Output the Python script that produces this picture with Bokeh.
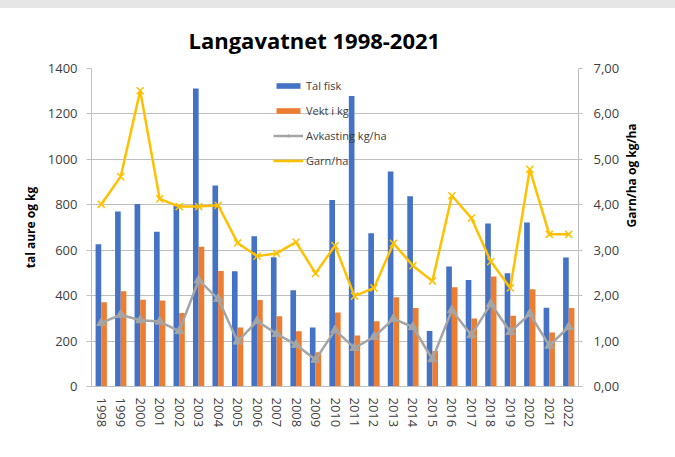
import math
from bokeh.plotting import figure
from bokeh.models import (ColumnDataSource, Range1d, FactorRange, LinearAxis, SingleIntervalTicker,
                          FixedTicker, Legend, LegendItem)
from bokeh.transform import dodge
from bokeh.embed import file_html
from bokeh.resources import INLINE

# ---- data ----
years = ["1998", "1999", "2000", "2001", "2002", "2003", "2004", "2005", "2006", "2007",
         "2008", "2009", "2010", "2011", "2012", "2013", "2014", "2015", "2016", "2017",
         "2018", "2019", "2020", "2021", "2022"]
tal_fisk = [626, 770, 803, 681, 795, 1312, 885, 507, 662, 569, 424, 260, 821,
            1279, 675, 947, 838, 244, 528, 469, 718, 499, 722, 347, 568]
vekt_kg = [371, 419, 382, 379, 324, 615, 509, 260, 381, 309, 243, 151, 326,
           225, 287, 393, 346, 156, 437, 299, 484, 312, 428, 238, 346]
avkasting = [1.40, 1.58, 1.46, 1.43, 1.22, 2.34, 1.93, 0.99, 1.44, 1.16, 0.92, 0.59, 1.24,
             0.85, 1.09, 1.49, 1.31, 0.60, 1.68, 1.13, 1.82, 1.20, 1.60, 0.90, 1.31]
garn_ha = [4.01, 4.62, 6.51, 4.13, 3.96, 3.96, 3.99, 3.16, 2.87, 2.93, 3.18, 2.49, 3.10,
           1.99, 2.17, 3.15, 2.66, 2.32, 4.20, 3.71, 2.75, 2.17, 4.78, 3.35, 3.35]
right_ticks = [0, 1, 2, 3, 4, 5, 6, 7]
right_tick_labels = ["0,00", "1,00", "2,00", "3,00", "4,00", "5,00", "6,00", "7,00"]

title_text = "Langavatnet 1998-2021"
left_label = "tal aure og kg"
right_label = "Garn/ha og kg/ha"

FONT = "Open Sans"
TXT = "#404040"
GRID = "#bfbfbf"

src = ColumnDataSource(dict(year=years, tal=tal_fisk, vekt=vekt_kg, avk=avkasting, garn=garn_ha))

p = figure(width=675, height=449, x_range=FactorRange(factors=years), y_range=Range1d(0, 1400),
           output_backend="svg", toolbar_location=None,
           min_border_left=91, min_border_right=97, min_border_top=60, min_border_bottom=71)
p.extra_y_ranges = {"right": Range1d(0, 7)}
p.outline_line_color = None
p.background_fill_color = "white"
p.border_fill_color = "white"
p.styles = {"border-top": "8px solid #e6e6e6"}

p.title.text = title_text
p.title.align = "left"
p.title.offset = 97
p.title.text_font = FONT
p.title.text_font_size = "22px"
p.title.text_font_style = "bold"
p.title.text_color = "black"
p.title.standoff = 27

b1 = p.vbar(x=dodge("year", -0.145, range=p.x_range), top="tal", width=0.29, source=src,
            fill_color="#4472C4", line_color=None)
b2 = p.vbar(x=dodge("year", 0.145, range=p.x_range), top="vekt", width=0.29, source=src,
            fill_color="#ED7D31", line_color=None)

l1 = p.line(x="year", y="avk", source=src, y_range_name="right", line_color="#A5A5A5", line_width=2.5)
s1 = p.scatter(x="year", y="avk", source=src, y_range_name="right", marker="triangle", size=9,
               fill_color="#A5A5A5", line_color="#A5A5A5")
l2 = p.line(x="year", y="garn", source=src, y_range_name="right", line_color="#FFC000", line_width=2.5)
s2 = p.scatter(x="year", y="garn", source=src, y_range_name="right", marker="x", size=10,
               line_color="#FFC000", line_width=1.5)

# left axis
ya = p.yaxis[0]
ya.ticker = SingleIntervalTicker(interval=200, num_minor_ticks=0)
ya.axis_line_color = GRID
ya.major_tick_line_color = GRID
ya.major_tick_out = 5
ya.major_tick_in = 0
ya.minor_tick_line_color = None
ya.major_label_standoff = 9
ya.major_label_text_font = FONT
ya.major_label_text_font_size = "13px"
ya.major_label_text_color = TXT
ya.axis_label = left_label
ya.axis_label_text_font = FONT
ya.axis_label_text_font_size = "12px"
ya.axis_label_text_font_style = "bold"
ya.axis_label_text_color = "black"
ya.axis_label_standoff = 6

p.ygrid.ticker = SingleIntervalTicker(interval=200, num_minor_ticks=0)
p.ygrid.grid_line_color = GRID
p.xgrid.grid_line_color = None

# right axis
ra = LinearAxis(y_range_name="right", ticker=FixedTicker(ticks=right_ticks),
                major_label_overrides={t: s for t, s in zip(right_ticks, right_tick_labels)})
ra.axis_line_color = GRID
ra.major_tick_line_color = GRID
ra.major_tick_out = 4
ra.major_tick_in = 0
ra.minor_tick_line_color = None
ra.major_label_standoff = 11
ra.major_label_text_font = FONT
ra.major_label_text_font_size = "13px"
ra.major_label_text_color = TXT
ra.axis_label = right_label
ra.axis_label_text_font = FONT
ra.axis_label_text_font_size = "12px"
ra.axis_label_text_font_style = "bold"
ra.axis_label_text_color = "black"
ra.axis_label_standoff = 9
ra.axis_label_orientation = math.pi / 2
ra.axis_label_text_align = "center"
p.add_layout(ra, "right")

# bottom axis
xa = p.xaxis[0]
xa.axis_line_color = GRID
xa.major_tick_line_color = None
xa.major_label_orientation = "vertical"
xa.major_label_standoff = 5
xa.major_label_text_font = FONT
xa.major_label_text_font_size = "13px"
xa.major_label_text_color = TXT

legend = Legend(items=[LegendItem(label="Tal fisk", renderers=[b1]),
                       LegendItem(label="Vekt i kg", renderers=[b2]),
                       LegendItem(label="Avkasting kg/ha", renderers=[l1, s1]),
                       LegendItem(label="Garn/ha", renderers=[l2, s2])],
                location=(182, 216), orientation="vertical",
                background_fill_alpha=0, border_line_color=None,
                glyph_width=30, glyph_height=7, label_height=20, spacing=5,
                padding=0, margin=0, label_standoff=3,
                label_text_font=FONT, label_text_font_size="11px", label_text_color=TXT)
p.add_layout(legend)

open("out.html", "w").write(file_html(p, INLINE))
